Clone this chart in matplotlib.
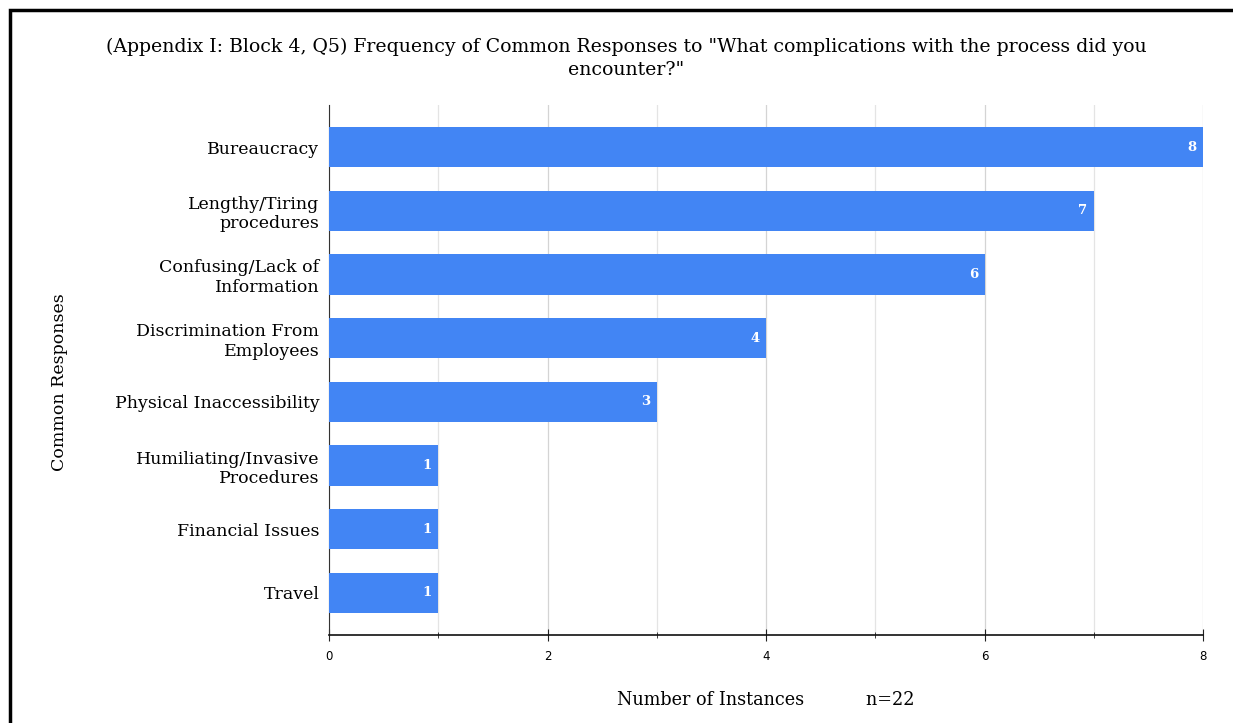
import matplotlib.pyplot as plt
from matplotlib.patches import Rectangle

categories = [
    "Bureaucracy",
    "Lengthy/Tiring\nprocedures",
    "Confusing/Lack of\nInformation",
    "Discrimination From\nEmployees",
    "Physical Inaccessibility",
    "Humiliating/Invasive\nProcedures",
    "Financial Issues",
    "Travel",
]
counts = [8, 7, 6, 4, 3, 1, 1, 1]

serif = ["DejaVu Serif"]
bar_color = "#4285F4"

fig = plt.figure(figsize=(12.33, 7.23), dpi=100)
ax = fig.add_axes([329 / 1233, 1 - 635 / 723, (1203 - 329) / 1233, (635 - 105) / 723])

ypos = list(range(len(categories)))
ax.barh(ypos, counts, height=0.63, color=bar_color, zorder=3)
for y, v in zip(ypos, counts):
    ax.text(v - 0.06, y, str(v), ha="right", va="center", color="white",
            fontsize=9.5, fontweight="bold", family=serif, zorder=4)

ax.set_xlim(0, 8)
ax.set_ylim(len(categories) - 1 + 0.66, -0.66)
ax.set_yticks(ypos)
ax.set_yticklabels(categories, family=serif, fontsize=12.5, linespacing=1.2)
ax.tick_params(axis="y", length=0, pad=7)

ax.set_xticks([0, 2, 4, 6, 8])
ax.set_xticks([1, 3, 5, 7], minor=True)
ax.tick_params(axis="x", which="major", length=8, direction="inout", labelsize=8.5, pad=7, color="#222222")
ax.tick_params(axis="x", which="minor", length=5, direction="inout", color="#222222")
ax.grid(axis="x", which="major", color="#d4d4d4", linewidth=0.9, zorder=0)
ax.grid(axis="x", which="minor", color="#e4e4e4", linewidth=0.9, zorder=0)

for side in ("top", "right"):
    ax.spines[side].set_visible(False)
ax.spines["left"].set_color("#333333")
ax.spines["bottom"].set_color("#111111")
ax.spines["bottom"].set_linewidth(1.2)

fig.text(626 / 1233, 1 - 58 / 723,
         '(Appendix I: Block 4, Q5) Frequency of Common Responses to "What complications with the process did you\nencounter?"',
         ha="center", va="center", family=serif, fontsize=13.6, linespacing=1.35)
fig.text(766 / 1233, 1 - 700 / 723, "Number of Instances           n=22",
         ha="center", va="center", family=serif, fontsize=12.7)
fig.text(60 / 1233, 1 - 382 / 723, "Common Responses", rotation=90,
         ha="center", va="center", family=serif, fontsize=12.5)

# outer frame
fig.patches.append(Rectangle((10 / 1233, -0.05), 1.1, 1 - 10 / 723 + 0.05,
                             transform=fig.transFigure, fill=False,
                             edgecolor="black", linewidth=2.5))

fig.savefig("out.png", dpi=100)
